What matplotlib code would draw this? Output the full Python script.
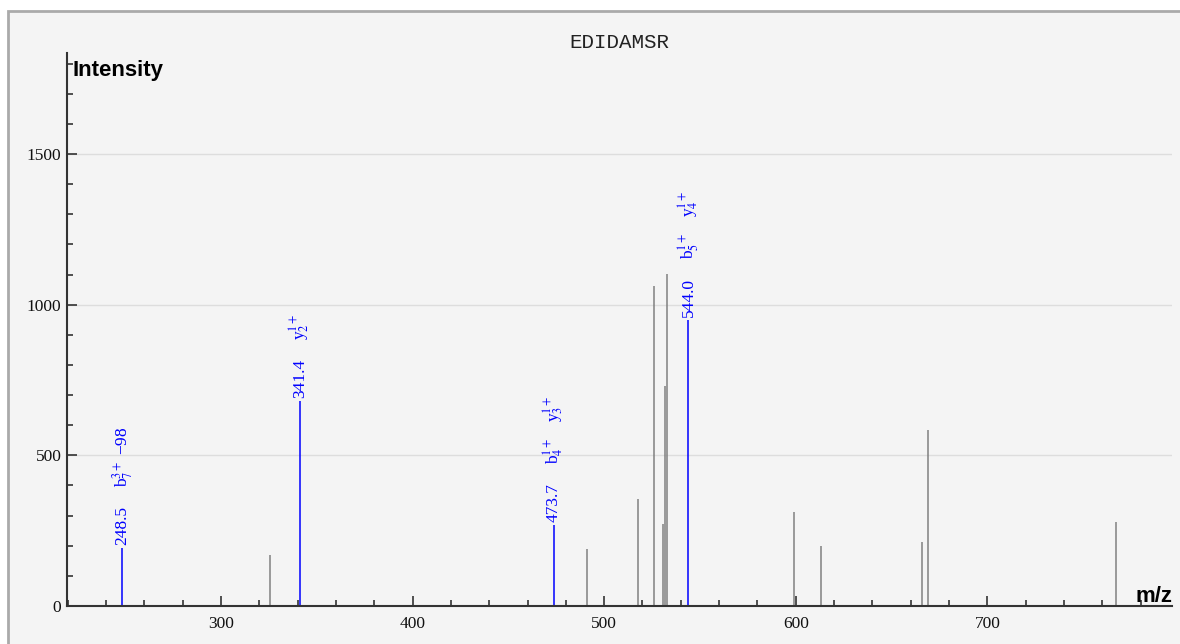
import matplotlib
matplotlib.use('Agg')
import matplotlib.pyplot as plt
from matplotlib.patches import Rectangle
from matplotlib.ticker import MultipleLocator

plt.rcParams['font.family'] = ['Liberation Serif', 'DejaVu Serif']
plt.rcParams['mathtext.fontset'] = 'stix'

title = 'EDIDAMSR'

# unannotated peaks (m/z, intensity)
other_mz = [325.6, 490.8, 517.9, 526.1, 530.8, 532.0, 532.7, 599.1, 613.1, 666.1, 669.2, 767.3]
other_int = [169, 189, 356, 1062, 271, 731, 1101, 313, 199, 213, 584, 278]

# annotated peaks
ann_mz = [248.5, 341.4, 473.7, 544.0]
ann_int = [192, 680, 269, 949]
ann_labels = [
    ['b$_{7}^{3+}$ \u221298'],
    ['y$_{2}^{1+}$'],
    ['b$_{4}^{1+}$', 'y$_{3}^{1+}$'],
    ['b$_{5}^{1+}$', 'y$_{4}^{1+}$'],
]

W, H = 1180, 644
fig = plt.figure(figsize=(W / 100, H / 100), dpi=100, facecolor='white')
# panel with grey border
fig.patches.append(Rectangle((8 / W, -0.1), 1.2, 1 - 11 / H + 0.1, transform=fig.transFigure,
                             facecolor='#f4f4f4', edgecolor='#aaaaaa', linewidth=2, zorder=-10))

ax = fig.add_axes([67 / W, 1 - 606 / H, 1105 / W, 553 / H])
ax.patch.set_alpha(0)

ax.vlines(other_mz, 0, other_int, color='#808080', linewidth=1.1)
ax.vlines(ann_mz, 0, ann_int, color='#0000ff', linewidth=1.1)

ax.set_xlim(219.7, 796.3)
ax.set_ylim(0, 1835)

for s in ['top', 'right']:
    ax.spines[s].set_visible(False)
for s in ['left', 'bottom']:
    ax.spines[s].set_color('#333333')
    ax.spines[s].set_linewidth(1.5)

ax.xaxis.set_major_locator(MultipleLocator(100))
ax.xaxis.set_minor_locator(MultipleLocator(20))
ax.yaxis.set_major_locator(MultipleLocator(500))
ax.yaxis.set_minor_locator(MultipleLocator(100))
ax.tick_params(axis='both', which='major', direction='in', length=7, width=1.2,
               color='#333333', labelsize=12.5, labelcolor='#111111')
ax.tick_params(axis='both', which='minor', direction='in', length=4, width=1.2, color='#333333')
ax.tick_params(axis='x', which='major', pad=7)
ax.tick_params(axis='y', which='major', pad=4)

ax.grid(axis='y', which='major', color='#dddddd', linewidth=1)
ax.set_axisbelow(True)

for mz, inten, labs in zip(ann_mz, ann_int, ann_labels):
    ax.annotate(f'{mz:.1f}', xy=(mz, inten), xytext=(0, 3), textcoords='offset pixels',
                rotation=90, ha='center', va='bottom', color='#0000ff', fontsize=12.5)
    for i, lab in enumerate(labs):
        ax.annotate(lab, xy=(mz, inten), xytext=(0, 61 + 42 * i), textcoords='offset pixels',
                    rotation=90, ha='center', va='bottom', color='#0000ff', fontsize=12.5)

ax.text(0.5, 1 + 10 / 553, title, transform=ax.transAxes, family=['Liberation Mono', 'DejaVu Sans Mono'],
        fontsize=15, color='#222222', ha='center', va='center')
ax.text(6 / 1105, 1 - 23 / 553, 'Intensity', transform=ax.transAxes, family=['Liberation Sans', 'DejaVu Sans'],
        fontweight='bold', fontsize=16, ha='left', va='baseline')
ax.text(1.0, 4 / 553, 'm/z', transform=ax.transAxes, family=['Liberation Sans', 'DejaVu Sans'],
        fontweight='bold', fontsize=16, ha='right', va='baseline')

fig.savefig('out.png', dpi=100, facecolor='white')
